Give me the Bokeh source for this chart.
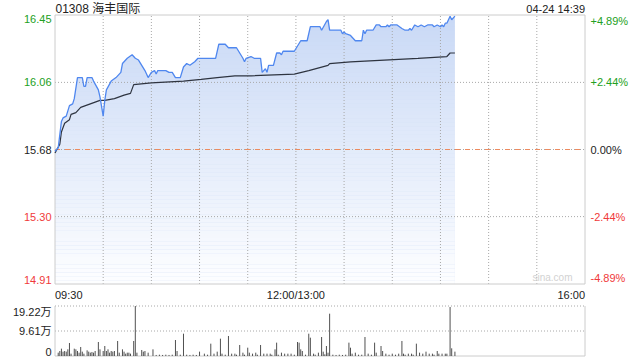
from bokeh.plotting import figure
from bokeh.models import Range1d, ColumnDataSource
from bokeh.core.properties import value, field
from bokeh.embed import file_html
from bokeh.resources import INLINE

# ---------------- data ----------------
title_text = "01308 海丰国际"
stamp_text = "04-24 14:39"
prev_close = 15.68

price_times = ["09:30", "09:32", "09:34", "09:35", "09:37", "09:39", "09:41", "09:42", "09:44", "09:47",
               "09:48", "09:49", "09:50", "09:53", "09:54", "09:57", "09:58", "10:00", "10:01", "10:02",
               "10:05", "10:08", "10:11", "10:12", "10:15", "10:18", "10:20", "10:22", "10:26", "10:28",
               "10:30", "10:32", "10:33", "10:34", "10:39", "10:41", "10:43", "10:45", "10:48", "10:50",
               "10:52", "10:54", "10:57", "10:59", "11:10", "11:12", "11:16", "11:18", "11:23", "11:27",
               "11:28", "11:29", "11:32", "11:34", "11:38", "11:39", "11:41", "11:42", "11:43", "11:46",
               "11:48", "11:50", "11:51", "11:52", "11:59", "13:03", "13:07", "13:09", "13:15", "13:16",
               "13:19", "13:20", "13:21", "13:28", "13:29", "13:30", "13:31", "13:34", "13:37", "13:41",
               "13:42", "13:43", "13:44", "13:48", "13:50", "13:52", "13:53", "13:56", "13:57", "13:58",
               "13:59", "14:03", "14:06", "14:08", "14:10", "14:11", "14:12", "14:14", "14:16", "14:18",
               "14:20", "14:22", "14:25", "14:26", "14:28", "14:30", "14:31", "14:32", "14:33", "14:34",
               "14:36", "14:37", "14:39"]
price_values = [15.67, 15.69, 15.84, 15.86, 15.87, 15.93, 15.94, 15.97, 16.09, 16.09,
                16.04, 16.04, 16.09, 16.09, 16.07, 16.02, 15.98, 15.87, 15.96, 16.02,
                16.07, 16.09, 16.12, 16.17, 16.20, 16.22, 16.20, 16.19, 16.13, 16.09,
                16.12, 16.13, 16.11, 16.13, 16.13, 16.12, 16.12, 16.09, 16.09, 16.15,
                16.17, 16.16, 16.18, 16.20, 16.20, 16.28, 16.28, 16.26, 16.26, 16.20,
                16.18, 16.20, 16.21, 16.20, 16.20, 16.12, 16.14, 16.12, 16.16, 16.16,
                16.23, 16.23, 16.22, 16.24, 16.24, 16.30, 16.30, 16.38, 16.38, 16.36,
                16.41, 16.42, 16.36, 16.36, 16.34, 16.35, 16.34, 16.33, 16.30, 16.30,
                16.36, 16.34, 16.36, 16.36, 16.39, 16.39, 16.38, 16.38, 16.39, 16.38,
                16.39, 16.39, 16.37, 16.36, 16.36, 16.37, 16.36, 16.39, 16.38, 16.39,
                16.38, 16.39, 16.39, 16.38, 16.39, 16.38, 16.39, 16.38, 16.40, 16.40,
                16.44, 16.42, 16.44]

avg_times = ["09:30", "09:33", "09:34", "09:36", "09:39", "09:40", "09:43", "09:46", "09:52", "09:58",
             "10:01", "10:07", "10:13", "10:17", "10:19", "10:30", "10:50", "11:01", "11:11", "11:22",
             "11:32", "11:59", "13:08", "13:20", "13:21", "13:34", "13:55", "14:16", "14:34", "14:36",
             "14:39"]
avg_values = [15.66, 15.71, 15.78, 15.83, 15.85, 15.88, 15.89, 15.92, 15.94, 15.96,
              15.96, 15.97, 15.99, 16.00, 16.05, 16.06, 16.07, 16.08, 16.09, 16.10,
              16.10, 16.11, 16.13, 16.16, 16.17, 16.18, 16.19, 16.20, 16.21, 16.23,
              16.23]

# volume in 万 shares
vol_times = ["09:32", "09:33", "09:34", "09:35", "09:36", "09:37", "09:38", "09:39", "09:40", "09:42",
             "09:43", "09:44", "09:45", "09:46", "09:47", "09:48", "09:50", "09:51", "09:52", "09:53",
             "09:54", "09:55", "09:57", "09:58", "10:00", "10:01", "10:02", "10:03", "10:04", "10:05",
             "10:06", "10:07", "10:09", "10:10", "10:12", "10:13", "10:14", "10:15", "10:16", "10:17",
             "10:19", "10:20", "10:21", "10:24", "10:25", "10:26", "10:28", "10:31", "10:33", "10:35",
             "10:37", "10:39", "10:41", "10:43", "10:45", "10:46", "10:48", "10:50", "10:52", "10:54",
             "10:56", "10:58", "11:00", "11:03", "11:05", "11:07", "11:09", "11:11", "11:13", "11:14",
             "11:16", "11:18", "11:20", "11:22", "11:23", "11:25", "11:27", "11:28", "11:30", "11:31",
             "11:33", "11:35", "11:36", "11:38", "11:40", "11:42", "11:44", "11:45", "11:47", "11:48",
             "11:49", "11:51", "11:53", "11:55", "11:57", "11:59", "13:01", "13:02", "13:03", "13:04",
             "13:06", "13:08", "13:09", "13:11", "13:12", "13:14", "13:16", "13:17", "13:18", "13:19",
             "13:20", "13:21", "13:23", "13:25", "13:27", "13:29", "13:31", "13:33", "13:34", "13:35",
             "13:37", "13:39", "13:41", "13:43", "13:45", "13:47", "13:49", "13:50", "13:53", "13:54",
             "13:56", "13:58", "14:00", "14:02", "14:04", "14:06", "14:07", "14:08", "14:10", "14:12",
             "14:13", "14:15", "14:17", "14:19", "14:21", "14:23", "14:25", "14:26", "14:28", "14:29",
             "14:31", "14:33", "14:34", "14:36", "14:37", "14:39"]
vol_values = [1.28, 1.92, 2.82, 1.67, 1.92, 1.67, 2.56, 5.00, 0.90, 2.82,
              2.56, 1.92, 1.28, 3.46, 1.67, 0.90, 2.18, 1.67, 1.28, 1.54,
              1.28, 1.92, 5.38, 2.56, 1.92, 3.84, 1.92, 2.56, 1.28, 1.92,
              1.67, 1.92, 5.77, 1.28, 2.56, 1.67, 0.90, 1.28, 1.28, 0.90,
              5.77, 19.22, 1.28, 2.31, 1.67, 1.92, 1.28, 2.56, 0.40, 0.50,
              0.40, 0.50, 0.40, 0.50, 6.15, 1.92, 0.50, 8.58, 0.50, 0.40,
              0.50, 0.40, 1.67, 0.90, 0.50, 4.74, 0.90, 1.67, 6.66, 0.90,
              0.50, 7.69, 0.90, 0.90, 0.50, 4.23, 1.28, 0.50, 3.20, 1.28,
              0.90, 1.28, 0.50, 4.23, 0.90, 0.90, 0.90, 0.50, 2.56, 5.13,
              0.50, 1.28, 0.90, 0.90, 0.90, 0.50, 5.38, 5.13, 2.56, 1.92,
              0.50, 8.58, 7.05, 0.90, 0.50, 1.28, 7.30, 1.67, 0.64, 3.84,
              1.28, 16.27, 0.50, 0.40, 0.50, 0.40, 0.50, 5.13, 3.20, 0.90,
              1.28, 0.50, 0.50, 7.30, 0.90, 0.50, 5.13, 1.28, 3.84, 1.92,
              0.90, 0.50, 0.90, 0.50, 0.90, 5.77, 0.90, 0.50, 0.90, 0.90,
              0.50, 4.74, 1.28, 0.90, 1.67, 0.90, 0.90, 0.50, 1.92, 0.90,
              0.90, 0.90, 0.90, 18.84, 2.95, 1.67]

left_labels = ["16.45", "16.06", "15.68", "15.30", "14.91"]
right_labels = ["+4.89%", "+2.44%", "0.00%", "-2.44%", "-4.89%"]
label_pcts = [4.89, 2.44, 0.0, -2.44, -4.89]
vol_labels = ["19.22万", "9.61万", "0"]
vol_ticks = [19.22, 9.61, 0.0]
time_labels = ["09:30", "12:00/13:00", "16:00"]
time_ticks = ["09:30", "12:00", "16:00"]

# ---------------- layout (pixels) ----------------
W, H = 640, 360
L, R = 54.5, 584.5      # plot left/right
T, B = 14.5, 283.5      # main panel top/bottom
B2 = 355.5              # volume panel bottom
VT = 305.5              # volume max line
SESSION = 330           # trading minutes
PPM = (R - L) / SESSION


def tidx(s):
    h, m = map(int, s.split(":"))
    mins = h * 60 + m
    return mins - 570 if mins <= 720 else mins - 780 + 150


top_p = prev_close * (1 + label_pcts[0] / 100)
bot_p = prev_close * (1 + label_pcts[-1] / 100)
PPU = (B - T) / (top_p - bot_p)
VPP = vol_ticks[0] / (B2 - VT)


def X(px):
    return (px - L) / PPM


def Y(py):
    return top_p - (py - T) / PPU


p = figure(width=W, height=H, output_backend="svg", toolbar_location=None,
           x_range=Range1d(X(0), X(W)), y_range=Range1d(Y(H), Y(0)),
           min_border=0, outline_line_color=None)
p.extra_y_ranges = {"vol": Range1d((B2 - H) * VPP, B2 * VPP)}
p.xaxis.visible = False
p.yaxis.visible = False
p.grid.visible = False
p.background_fill_color = "white"
p.border_fill_color = "white"

tx = [tidx(s) for s in price_times]
ax = [tidx(s) for s in avg_times]
vx = [tidx(s) for s in vol_times]
t_end = tx[-1]

GRID = "#a8a8a8"
BORDER = "#cccccc"

# area fill with vertical gradient (solid base + white bands)
p.varea(x=tx, y1=[bot_p] * len(tx), y2=price_values, fill_color="#c9d9f6", fill_alpha=1.0)
N = 70
band_edges = [top_p - (top_p - bot_p) * k / N for k in range(N + 1)]
p.quad(left=[0] * N, right=[t_end] * N, top=band_edges[:-1], bottom=band_edges[1:],
       fill_color="white", fill_alpha=[0.97 * (k + 0.5) / N for k in range(N)], line_color=None)

# grid lines
grid_t = list(range(30, SESSION, 30))
p.segment(x0=grid_t, y0=[bot_p] * len(grid_t), x1=grid_t, y1=[top_p] * len(grid_t),
          line_color=GRID, line_width=1, line_dash="1 2")
hp = [prev_close * (1 + q / 100) for q in label_pcts[1:-1]]
p.segment(x0=[0] * len(hp), y0=hp, x1=[SESSION] * len(hp), y1=hp,
          line_color=GRID, line_width=1, line_dash="1 2")
p.segment(x0=[0], y0=[prev_close], x1=[SESSION], y1=[prev_close],
          line_color="#ee8a5e", line_width=1, line_dash="5 5")

# main border
p.segment(x0=[0, 0, 0, SESSION], y0=[top_p, bot_p, bot_p, bot_p],
          x1=[SESSION, SESSION, 0, SESSION], y1=[top_p, bot_p, top_p, top_p],
          line_color=BORDER, line_width=1)

# watermark
p.text(x=[X(572)], y=[Y(277)], text=["sina.com"], text_align="right", text_baseline="middle",
       text_font=value("Liberation Sans"), text_font_size="10px", text_color="#d2d2d2")

# lines
p.line(x=ax, y=avg_values, line_color="#2e3440", line_width=1.2)
p.line(x=tx, y=price_values, line_color="#4f87ef", line_width=1.3)

# volume panel
p.segment(x0=[0, 0], y0=vol_ticks[:2], x1=[SESSION, SESSION], y1=vol_ticks[:2],
          line_color=GRID, line_width=1, line_dash="1 2", y_range_name="vol")
p.segment(x0=[0, SESSION, 0], y0=[0, 0, 0], x1=[0, SESSION, SESSION], y1=[vol_ticks[0], vol_ticks[0], 0],
          line_color=BORDER, line_width=1, y_range_name="vol")
p.segment(x0=vx, y0=[0] * len(vx), x1=vx, y1=vol_values, line_color="#505050",
          line_width=1, y_range_name="vol")

FONT = value("Liberation Sans, Noto Sans CJK SC")
GREEN, RED, BLACK = "#22a022", "#f03a3a", "#222222"


def pct_color(q):
    return GREEN if q > 0 else (RED if q < 0 else BLACK)


baselines = ["top"] + ["middle"] * (len(label_pcts) - 2) + ["bottom"]
lab = ColumnDataSource(dict(
    y=[prev_close * (1 + q / 100) for q in label_pcts],
    xl=[X(L - 3.5)] * len(label_pcts),
    xr=[X(R + 5.5)] * len(label_pcts),
    lt=left_labels, rt=right_labels,
    c=[pct_color(q) for q in label_pcts],
    b=baselines))
p.text(x="xl", y="y", text="lt", source=lab, text_align="right", text_baseline=field("b"),
       text_color=field("c"), text_font=FONT, text_font_size="11px")
p.text(x="xr", y="y", text="rt", source=lab, text_align="left", text_baseline=field("b"),
       text_color=field("c"), text_font=FONT, text_font_size="11px")

vlab = ColumnDataSource(dict(y=vol_ticks, x=[X(L - 3.5)] * 3, t=vol_labels,
                             b=["top", "middle", "bottom"]))
p.text(x="x", y="y", text="t", source=vlab, text_align="right", text_baseline=field("b"),
       text_color=BLACK, text_font=FONT, text_font_size="11px", y_range_name="vol")

# time labels
tt = [tidx(s) for s in time_ticks]
p.text(x=tt, y=[Y(294)] * 3, text=time_labels, text_align=["left", "center", "right"],
       text_baseline="middle", text_color=BLACK, text_font=FONT, text_font_size="11px")

# title and stamp
p.text(x=[X(L + 0.5)], y=[Y(8)], text=[title_text], text_align="left", text_baseline="middle",
       text_color=BLACK, text_font=FONT, text_font_size="12px")
p.text(x=[X(R)], y=[Y(8)], text=[stamp_text], text_align="right", text_baseline="middle",
       text_color=BLACK, text_font=FONT, text_font_size="11px")

open("out.html", "w").write(file_html(p, INLINE))
